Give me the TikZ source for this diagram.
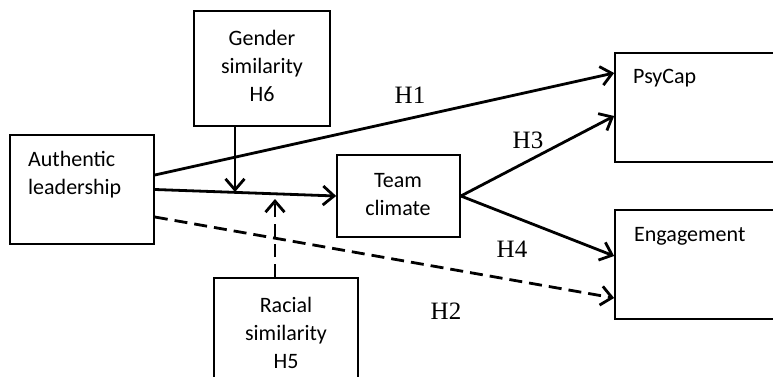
\documentclass[tikz,border=0pt]{standalone}
\usepackage{fontspec}
\setmainfont{Carlito}
\newfontfamily\hypfont{Liberation Serif}
\usetikzlibrary{calc,positioning}
\usetikzlibrary{arrows.meta}

\begin{document}
\begin{tikzpicture}[x=1pt, y=-1pt,
		box/.style = {draw, line width=1.7pt, inner sep=0pt},
		txt/.style = {inner sep=0pt, align=center, font=\fontsize{22}{28}\selectfont},
		hyp/.style = {inner sep=0pt, anchor=base, font=\hypfont\fontsize{25}{25}\selectfont},
		arr/.style = {line width=2.8pt, -{Straight Barb[length=11pt, width=19pt]}},
		dasharr/.style = {arr, dash pattern=on 13pt off 7pt}]
		\useasboundingbox (0,0) rectangle (773,377);
		\clip (0,0) rectangle (773,377);
		\node[box, minimum width=136pt, minimum height=115pt] (gender) at (262,68.5) {};
		\node[box, minimum width=144pt, minimum height=109pt] (auth) at (82,189.5) {};
		\node[box, minimum width=123pt, minimum height=82pt] (team) at (398.5,196) {};
		\node[box, minimum width=175pt, minimum height=109pt] (psycap) at (702.5,107.5) {};
		\node[box, minimum width=175pt, minimum height=109pt] (engage) at (702.5,264.5) {};
		\node[box, minimum width=144pt, minimum height=112pt] (racial) at (286,334) {};
		\node[txt] (gendertxt) at (262,66) {Gender\\similarity\\H6};
		\node[txt, align=left, anchor=west] (authtxt) at (28,175) {Authentic\\leadership};
		\node[txt] (teamtxt) at (398,195) {Team\\climate};
		\node[txt, anchor=base west] (psycaptxt) at (633,84) {PsyCap};
		\node[txt, anchor=base west] (engagetxt) at (634,241) {Engagement};
		\node[txt] (racialtxt) at (286,332.5) {Racial\\similarity\\H5};
		\coordinate (gmod) at (235,192);
		\coordinate (rmod) at (275,199);
		\draw[arr] ([yshift=14.5pt]auth.east) -- ([yshift=34.5pt]psycap.west);
		\draw[arr] (auth.east) -- (team.west);
		\draw[dasharr] ([yshift=-27.5pt]auth.east) -- ([yshift=-33.5pt]engage.west);
		\draw[arr] (team.east) -- ([yshift=-8.5pt]psycap.west);
		\draw[arr] (team.east) -- ([yshift=8.5pt]engage.west);
		\draw[arr] ([xshift=-27pt]gender.south) -- (gmod);
		\draw[dasharr] ([xshift=-11pt]racial.north) -- (rmod);
		\node[hyp] (h1) at (410,104) {H1};
		\node[hyp] (h3) at (528,148) {H3};
		\node[hyp] (h4) at (512,257) {H4};
		\node[hyp] (h2) at (446,319) {H2};
	\end{tikzpicture}
\end{document}
